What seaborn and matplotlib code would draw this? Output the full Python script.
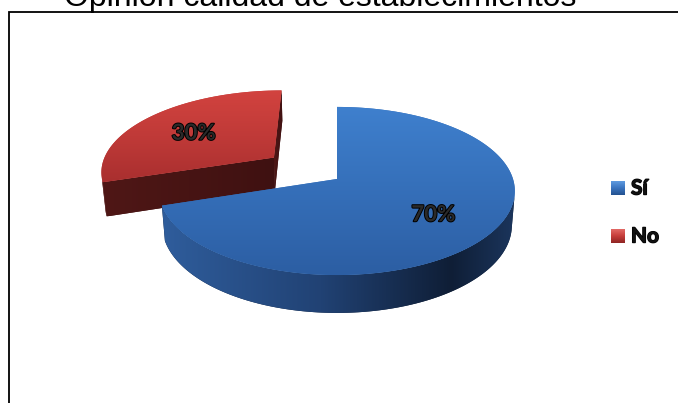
import numpy as np
import matplotlib
matplotlib.use("Agg")
import matplotlib.pyplot as plt
import matplotlib.patheffects as pe
from matplotlib.patches import Polygon
from matplotlib.colors import LinearSegmentedColormap
import seaborn as sns

# ---- data -------------------------------------------------------------
categories = ["Sí", "No"]
values = [70, 30]
pct_labels = ["70%", "30%"]
explode = [0.0, 0.46]
title = "Opinión calidad de establecimientos"

# ---- styles -----------------------------------------------------------
top_stops = {
    "Sí": [(0.0, "#3f80ce"), (0.5, "#356fb9"), (1.0, "#2c5ea3")],
    "No": [(0.0, "#d2433f"), (0.5, "#c03a38"), (1.0, "#a92f2f")],
}
wall_stops = {
    "Sí": [(0.0, "#2f5d9c"), (0.45, "#214274"), (0.82, "#0f1e36"), (1.0, "#1b355c")],
    "No": [(0.0, "#5c1a19"), (1.0, "#4a1414")],
}
cut_stops = {
    "Sí": [(0.0, "#244c85"), (1.0, "#1a3860")],
    "No": [(0.0, "#4f1716"), (1.0, "#3f1111")],
}
legend_stops = {
    "Sí": [(0.0, "#5f9be0"), (0.5, "#3a74bf"), (1.0, "#23518f")],
    "No": [(0.0, "#e36a66"), (0.5, "#c63d3a"), (1.0, "#8e2524")],
}

sns.set_theme(style="white")
plt.rcParams["font.family"] = ["Lato", "DejaVu Sans"]

W, H = 678, 403
fig = plt.figure(figsize=(W / 100, H / 100), dpi=100)
ax = fig.add_axes([0, 0, 1, 1])

# ---- simple perspective camera for the 3-D pie ------------------------
elev = np.radians(27.9)
ce, se = np.cos(elev), np.sin(elev)
FOCAL = 6.19
SCALE = 176.0
CX, CY = 337.0, 179.0
DEPTH = 0.223
camera = np.array([0.0, -FOCAL * ce, FOCAL * se])


def project(x, y, z):
    x, y, z = np.broadcast_arrays(np.asarray(x, float), np.asarray(y, float),
                                  np.asarray(z, float))
    v = y * se + z * ce
    w = y * ce - z * se
    k = FOCAL / (FOCAL + w)
    return CX + SCALE * x * k, CY - SCALE * v * k


zcount = [1]


def shade(px, py, stops, axis="y"):
    """Fill a screen polygon with a linear gradient."""
    z = zcount[0]
    zcount[0] += 1
    poly = Polygon(np.column_stack([px, py]), closed=True,
                   facecolor=stops[len(stops) // 2][1], edgecolor="none",
                   zorder=z)
    ax.add_patch(poly)
    x0, x1, y0, y1 = px.min(), px.max(), py.min(), py.max()
    cmap = LinearSegmentedColormap.from_list("grad", stops)
    g = np.linspace(0, 1, 256)
    img = g[:, None] if axis == "y" else g[None, :]
    im = ax.imshow(img, cmap=cmap, vmin=0, vmax=1, extent=(x0, x1, y1, y0),
                   origin="upper", aspect="auto", interpolation="bilinear",
                   zorder=z)
    im.set_clip_path(poly)


# slice geometry from the values (start at 12 o'clock, clockwise)
vals = np.asarray(values, float)
frac = vals / vals.sum()
cum = np.concatenate([[0], np.cumsum(frac)])
slices = []
for i, cat in enumerate(categories):
    a_start = 90 - 360 * cum[i]
    a_end = 90 - 360 * cum[i + 1]
    mid = np.radians((a_start + a_end) / 2)
    ox, oy = explode[i] * np.cos(mid), explode[i] * np.sin(mid)
    slices.append(dict(cat=cat, t0=a_end, t1=a_start, mid=mid, ox=ox, oy=oy,
                       label=pct_labels[i]))

# paint back-to-front
for s in sorted(slices, key=lambda d: -d["oy"]):
    cat, ox, oy = s["cat"], s["ox"], s["oy"]
    th = np.radians(np.linspace(s["t0"], s["t1"], 240))

    # radial cut faces that face the camera
    for ang, side in ((s["t0"], -1), (s["t1"], 1)):
        a = np.radians(ang)
        n = np.array([np.cos(a + side * np.pi / 2), np.sin(a + side * np.pi / 2), 0])
        pm = np.array([ox + 0.5 * np.cos(a), oy + 0.5 * np.sin(a), -DEPTH / 2])
        if np.dot(n, camera - pm) > 0:
            xs = np.array([ox, ox + np.cos(a), ox + np.cos(a), ox])
            ys = np.array([oy, oy + np.sin(a), oy + np.sin(a), oy])
            zs = np.array([0, 0, -DEPTH, -DEPTH])
            px, py = project(xs, ys, zs)
            shade(px, py, cut_stops[cat], axis="x")

    # outer wall, only the part turned towards the camera
    pts = np.column_stack([ox + np.cos(th), oy + np.sin(th), np.zeros_like(th)])
    nrm = np.column_stack([np.cos(th), np.sin(th), np.zeros_like(th)])
    vis = np.einsum("ij,ij->i", nrm, camera - pts) > 0
    if vis.sum() > 1:
        tv = th[vis]
        xt, yt = ox + np.cos(tv), oy + np.sin(tv)
        pxa, pya = project(xt, yt, 0)
        pxb, pyb = project(xt[::-1], yt[::-1], -DEPTH)
        shade(np.concatenate([pxa, pxb]), np.concatenate([pya, pyb]),
              wall_stops[cat], axis="x")

    # top face
    xs = np.concatenate([[ox], ox + np.cos(th)])
    ys = np.concatenate([[oy], oy + np.sin(th)])
    px, py = project(xs, ys, 0)
    shade(px, py, top_stops[cat], axis="y")

# percentage labels
outline = [pe.Stroke(linewidth=1.4, foreground="black"), pe.Normal()]
for s in slices:
    r = 0.64
    lx, ly = project(s["ox"] + r * np.cos(s["mid"]), s["oy"] + r * np.sin(s["mid"]), 0)
    ax.text(float(lx), float(ly) + 3, s["label"], ha="center", va="center",
            fontsize=16, fontweight="bold", color="#2a2a2a",
            path_effects=outline, zorder=50)

# legend
LX, LY, STEP, BOX = 611, 181, 48, 14
for i, cat in enumerate(categories):
    y0 = LY + i * STEP
    bx = np.array([LX, LX + BOX, LX + BOX, LX], float)
    by = np.array([y0, y0, y0 + BOX, y0 + BOX], float)
    zcount[0] = 60 + 2 * i
    shade(bx, by, legend_stops[cat], axis="y")
    ax.text(LX + BOX + 6, y0 + BOX / 2 + 0.5, cat, ha="left", va="center",
            fontsize=15, fontweight="bold", color="#111111",
            path_effects=[pe.Stroke(linewidth=1.0, foreground="black"), pe.Normal()],
            zorder=70)

# chart frame and title
ax.plot([9, 9, W + 5], [H + 5, 12, 12], color="black", lw=1.3,
        solid_joinstyle="miter", zorder=80)
fig.text(320 / W, 1 - 6 / H, title, ha="center", va="baseline",
         fontsize=23, family=["Liberation Sans", "DejaVu Sans"], color="black")

ax.set_xlim(0, W)
ax.set_ylim(H, 0)
ax.axis("off")
fig.savefig("out.png", dpi=100)
